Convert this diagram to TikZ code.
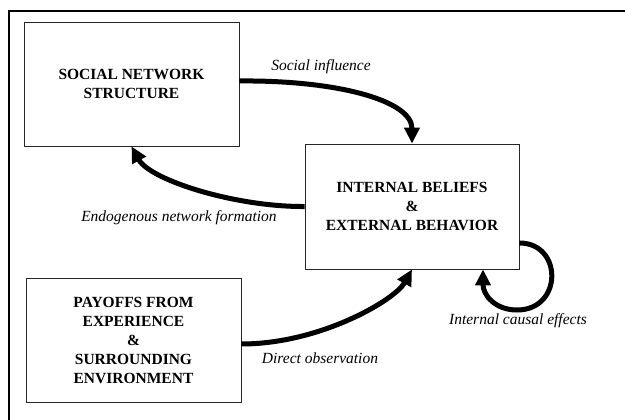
\documentclass[tikz,border=0pt]{standalone}
\usepackage{fontspec}
\setmainfont{Liberation Serif}
\usetikzlibrary{arrows.meta}

\begin{document}
\begin{tikzpicture}[x=1pt, y=-1pt,
  box/.style={draw=black!85, line width=0.8pt, align=center,
              font=\fontsize{15.5}{19}\selectfont\bfseries,
              minimum width=215pt, minimum height=124pt, inner sep=0pt},
  lbl/.style={font=\fontsize{15.5}{19}\selectfont\itshape, inner sep=0pt},
  flow/.style={line width=5pt, -{Triangle[length=16pt,width=15pt]}}]
  \useasboundingbox (0,0) rectangle (625,420);
  \draw[line width=1.2pt] (9,420) -- (9,11) -- (625,11);

  \node[box] (social) at (131.5,84) {SOCIAL NETWORK\\STRUCTURE};
  \node[box, minimum width=214pt, minimum height=125pt] (inner) at (412,206.5)
    {INTERNAL BELIEFS\\\&\\EXTERNAL BEHAVIOR};
  \node[box] (payoff) at (133.5,340)
    {PAYOFFS FROM\\EXPERIENCE\\\&\\SURROUNDING\\ENVIRONMENT};

  \node[lbl] (lsoc) at (321,67) {Social influence};
  \node[lbl] (lendo) at (179,218) {Endogenous network formation};
  \node[lbl] (ldir) at (320,358) {Direct observation};
  \node[lbl] (lint) at (518,321) {Internal causal effects};

  \draw[flow] ([yshift=3pt]social.east) .. controls (335,80) and (412,100) .. (inner.north);
  \draw[flow] (inner.west) .. controls (235,207) and (150,180) .. (social.south);
  \draw[flow] ([yshift=-4pt]payoff.east) .. controls (320,344) and (395,300) .. (inner.south);
  \draw[flow] ([yshift=-36.5pt]inner.east) .. controls (563,243) and (563,310) .. (517,310)
    .. controls (495,310) and (483,295) .. ([xshift=71pt]inner.south);
\end{tikzpicture}
\end{document}
